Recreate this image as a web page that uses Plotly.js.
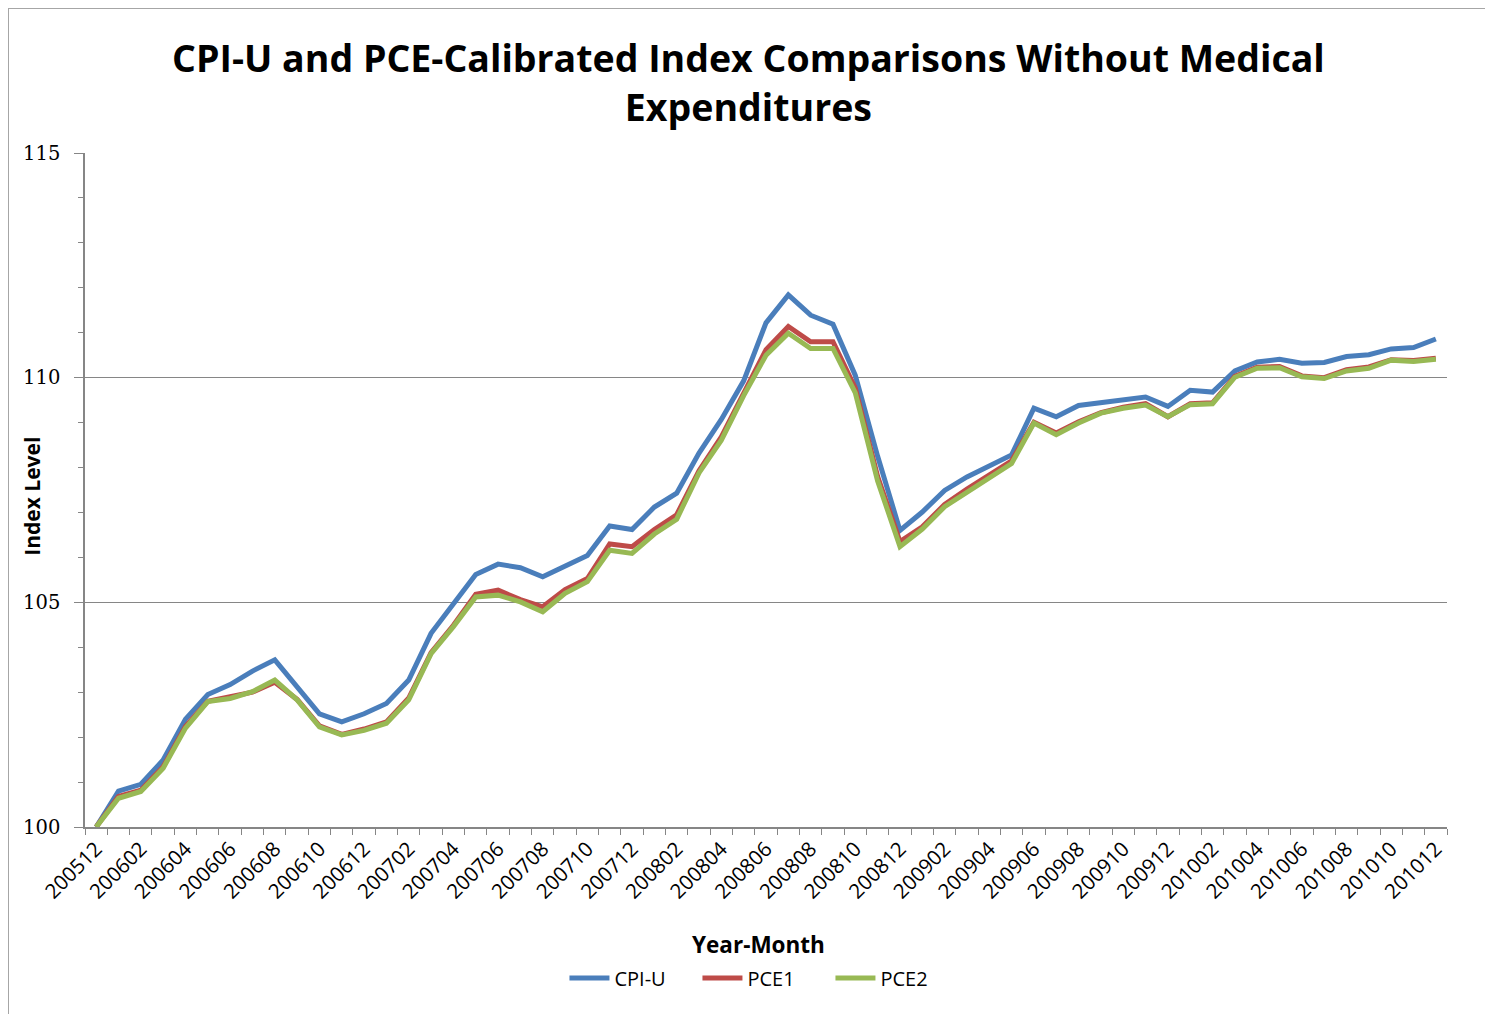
<!DOCTYPE html>
<html>
<head>
<meta charset="utf-8">
<script src="https://cdn.plot.ly/plotly-3.0.1.min.js"></script>
<style>
  html, body { margin: 0; padding: 0; background: #ffffff; }
  #frame { position: absolute; left: 8px; top: 8px; width: 1490px; height: 1020px;
           border-left: 1px solid #a6a6a6; border-top: 1px solid #a6a6a6; pointer-events: none; }
  #chart { width: 1485px; height: 1014px; }
</style>
</head>
<body>
<div id="chart"></div>
<div id="frame"></div>
<script>
const categories = [
  "200512","200601","200602","200603","200604","200605","200606","200607","200608","200609","200610","200611","200612",
  "200701","200702","200703","200704","200705","200706","200707","200708","200709","200710","200711","200712",
  "200801","200802","200803","200804","200805","200806","200807","200808","200809","200810","200811","200812",
  "200901","200902","200903","200904","200905","200906","200907","200908","200909","200910","200911","200912",
  "201001","201002","201003","201004","201005","201006","201007","201008","201009","201010","201011","201012"
];

const cpiU = [
  100.00, 100.80, 100.95, 101.49, 102.40, 102.95, 103.17, 103.47, 103.72, 103.13, 102.52, 102.34, 102.52,
  102.75, 103.27, 104.31, 104.97, 105.62, 105.85, 105.77, 105.57, 105.82, 106.04, 106.70, 106.62,
  107.12, 107.43, 108.32, 109.07, 109.93, 111.22, 111.84, 111.39, 111.19, 110.05, 108.25, 106.60,
  107.01, 107.49, 107.79, 108.03, 108.28, 109.32, 109.13, 109.38, 109.45, 109.51, 109.57, 109.36,
  109.72, 109.68, 110.15, 110.35, 110.41, 110.32, 110.34, 110.47, 110.51, 110.64, 110.67, 110.86
];

const pce1 = [
  100.00, 100.68, 100.82, 101.34, 102.24, 102.80, 102.90, 103.00, 103.22, 102.84, 102.25, 102.06, 102.18,
  102.34, 102.87, 103.88, 104.49, 105.18, 105.27, 105.06, 104.90, 105.28, 105.53, 106.30, 106.24,
  106.62, 106.95, 107.93, 108.68, 109.64, 110.62, 111.14, 110.80, 110.80, 109.77, 107.80, 106.35,
  106.68, 107.18, 107.52, 107.82, 108.15, 109.01, 108.77, 109.02, 109.22, 109.34, 109.42, 109.13,
  109.42, 109.44, 110.03, 110.23, 110.25, 110.04, 110.00, 110.18, 110.24, 110.40, 110.38, 110.43
];

const pce2 = [
  100.00, 100.64, 100.79, 101.31, 102.20, 102.79, 102.86, 103.01, 103.27, 102.83, 102.23, 102.05, 102.15,
  102.31, 102.83, 103.86, 104.46, 105.12, 105.16, 105.01, 104.79, 105.20, 105.46, 106.16, 106.09,
  106.52, 106.85, 107.88, 108.61, 109.60, 110.50, 110.99, 110.65, 110.65, 109.66, 107.70, 106.24,
  106.63, 107.13, 107.46, 107.77, 108.09, 108.99, 108.73, 108.99, 109.21, 109.32, 109.39, 109.13,
  109.40, 109.42, 110.01, 110.21, 110.22, 110.02, 109.98, 110.15, 110.21, 110.39, 110.36, 110.41
];

const seriesNames = ["CPI-U", "PCE1", "PCE2"];
const seriesColors = ["#4a7ebb", "#be4b48", "#98b954"];

const xIdx = categories.map((_, i) => i);
const labelIdx = xIdx.filter(i => i % 2 === 0);
const labelText = labelIdx.map(i => categories[i]);

const seriesData = [cpiU, pce1, pce2];
const traces = seriesData.map((vals, k) => ({
  type: "scatter",
  mode: "lines",
  x: xIdx,
  y: vals,
  name: seriesNames[k],
  line: { color: seriesColors[k], width: 5 },
  hoverinfo: "x+y+name"
}));

const SANS = "'Open Sans', Lato, sans-serif";

const layout = {
  width: 1485,
  height: 1014,
  paper_bgcolor: "#ffffff",
  plot_bgcolor: "#ffffff",
  margin: { l: 85, r: 38, t: 153, b: 187 },
  font: { family: SANS, color: "#000000" },
  title: {
    text: "<b>CPI-U and PCE-Calibrated Index Comparisons Without Medical<br>Expenditures</b>",
    font: { family: SANS, size: 37.5, color: "#000000" },
    x: 0.504, xanchor: "center",
    yref: "container",
    y: 0.929, yanchor: "middle"
  },
  xaxis: {
    range: [-0.5, 60.5],
    tickmode: "array",
    tickvals: labelIdx,
    ticktext: labelText,
    tickangle: -45,
    ticks: "",
    tickfont: { family: SANS, size: 20.5, color: "#000000" },
    showgrid: false,
    zeroline: false,
    showline: true,
    linecolor: "#868686",
    linewidth: 1.5,
    minor: { tick0: -0.5, dtick: 1, ticks: "outside", ticklen: 6, tickcolor: "#868686", tickwidth: 1, showgrid: false },
    automargin: false
  },
  yaxis: {
    range: [100, 115],
    tickmode: "linear",
    tick0: 100,
    dtick: 5,
    ticks: "outside",
    ticklen: 9,
    tickcolor: "#868686",
    ticklabelstandoff: 10,
    tickfont: { family: "'DejaVu Serif', 'Liberation Serif', serif", size: 19.5, color: "#000000" },
    showgrid: true,
    gridcolor: "#868686",
    gridwidth: 1,
    zeroline: false,
    showline: true,
    linecolor: "#868686",
    linewidth: 1.5,
    minor: { dtick: 1, ticks: "outside", ticklen: 5, tickcolor: "#868686", showgrid: false },
    automargin: false
  },
  annotations: [
    {
      text: "<b>Year-Month</b>",
      xref: "paper", yref: "paper",
      x: 0.4945, y: -0.175, xanchor: "center", yanchor: "middle",
      showarrow: false,
      font: { family: SANS, size: 22.5, color: "#000000" }
    },
    {
      text: "<b>Index Level</b>",
      xref: "paper", yref: "paper",
      x: -0.0389, y: 0.49, xanchor: "center", yanchor: "middle",
      textangle: -90,
      showarrow: false,
      font: { family: SANS, size: 21, color: "#000000" }
    }
  ],
  legend: {
    orientation: "h",
    x: 0.4985, xanchor: "center",
    y: -0.224, yanchor: "middle",
    font: { family: SANS, size: 20, color: "#000000" },
    itemwidth: 40,
    entrywidth: 78,
    entrywidthmode: "pixels",
    tracegroupgap: 0
  },
  showlegend: true
};

Plotly.newPlot("chart", traces, layout, { displayModeBar: false });
</script>
</body>
</html>
